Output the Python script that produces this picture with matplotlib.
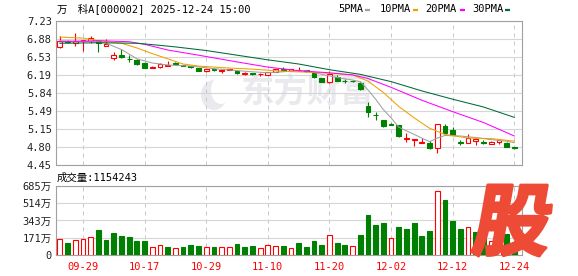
import numpy as np
import matplotlib
matplotlib.use('Agg')
import matplotlib.pyplot as plt
from matplotlib.textpath import TextPath
from matplotlib.font_manager import FontProperties
from matplotlib.patches import PathPatch, Ellipse
from matplotlib.transforms import Affine2D
from matplotlib.lines import Line2D

plt.rcParams['font.family'] = ['DejaVu Sans Mono', 'Noto Sans CJK SC']
plt.rcParams['font.size'] = 7.5

# ---------------------------------------------------------------
# data
# ---------------------------------------------------------------
dates = ['09-24', '09-25', '09-26', '09-29', '09-30',
         '10-09', '10-10', '10-13', '10-14', '10-15', '10-16', '10-17',
         '10-20', '10-21', '10-22', '10-23', '10-24', '10-27', '10-28',
         '10-29', '10-30', '10-31',
         '11-03', '11-04', '11-05', '11-06', '11-07', '11-10', '11-11',
         '11-12', '11-13', '11-14', '11-17', '11-18', '11-19', '11-20',
         '11-21', '11-24', '11-25', '11-26', '11-27', '11-28',
         '12-01', '12-02', '12-03', '12-04', '12-05', '12-08', '12-09',
         '12-10', '12-11', '12-12', '12-15', '12-16', '12-17', '12-18',
         '12-19', '12-22', '12-23', '12-24']

opens = [6.72, 6.85, 6.81, 6.84, 6.84, 6.84, 6.74, 6.52, 6.58, 6.50,
         6.48, 6.41, 6.33, 6.34, 6.37, 6.42, 6.38, 6.36, 6.32, 6.26,
         6.31, 6.27, 6.29, 6.26, 6.21, 6.22, 6.20, 6.19, 6.25, 6.31,
         6.27, 6.28, 6.28, 6.23, 6.12, 6.06, 6.14, 6.08, 6.08, 6.03,
         5.58, 5.42, 5.31, 5.25, 5.22, 4.95, 4.94, 4.88, 4.88, 4.77,
         5.20, 5.13, 4.89, 4.88, 4.92, 4.89, 4.86, 4.90, 4.88, 4.79]
closes = [6.84, 6.83, 6.84, 6.86, 6.91, 6.80, 6.79, 6.58, 6.54, 6.49,
          6.40, 6.33, 6.35, 6.40, 6.39, 6.40, 6.37, 6.34, 6.27, 6.30,
          6.28, 6.28, 6.30, 6.23, 6.22, 6.21, 6.21, 6.24, 6.30, 6.29,
          6.30, 6.29, 6.26, 6.14, 6.06, 6.20, 6.08, 6.07, 6.07, 5.91,
          5.47, 5.41, 5.20, 5.23, 5.01, 4.97, 4.95, 4.89, 4.77, 5.24,
          5.06, 5.03, 4.88, 4.98, 4.96, 4.88, 4.90, 4.93, 4.80, 4.78]
highs = [6.94, 6.87, 6.99, 6.87, 6.94, 6.85, 6.88, 6.64, 6.69, 6.57,
         6.49, 6.44, 6.36, 6.42, 6.46, 6.43, 6.39, 6.37, 6.33, 6.31,
         6.32, 6.29, 6.31, 6.28, 6.25, 6.23, 6.22, 6.25, 6.31, 6.34,
         6.31, 6.34, 6.29, 6.24, 6.13, 6.27, 6.18, 6.11, 6.10, 6.05,
         5.66, 5.48, 5.32, 5.26, 5.23, 5.07, 4.96, 4.98, 4.92, 5.25,
         5.24, 5.18, 4.93, 5.04, 4.97, 4.93, 4.91, 4.96, 4.89, 4.79]
lows = [6.71, 6.80, 6.74, 6.66, 6.80, 6.63, 6.74, 6.47, 6.52, 6.43,
        6.38, 6.32, 6.32, 6.33, 6.36, 6.38, 6.36, 6.33, 6.26, 6.25,
        6.27, 6.23, 6.28, 6.21, 6.19, 6.19, 6.17, 6.18, 6.24, 6.27,
        6.26, 6.27, 6.25, 6.13, 6.05, 6.04, 6.07, 6.04, 6.05, 5.89,
        5.38, 5.31, 5.19, 5.22, 4.99, 4.90, 4.81, 4.88, 4.76, 4.68,
        5.04, 5.02, 4.84, 4.87, 4.84, 4.85, 4.85, 4.86, 4.79, 4.76]

# volume, in 万 (10k lots)
volumes = [161, 122, 151, 161, 178, 250, 151, 220, 191, 178,
           141, 141, 82, 95, 76, 72, 76, 102, 92, 82,
           76, 82, 76, 112, 76, 92, 72, 99, 92, 86,
           72, 122, 82, 141, 102, 197, 122, 102, 89, 201,
           398, 299, 319, 171, 280, 260, 319, 191, 240, 632,
           546, 339, 260, 276, 230, 172, 140, 160, 208, 115.4243]

# moving averages read at a few candles
ma5_idx = [0, 2, 5, 6, 8, 10, 12, 14, 17, 20, 24, 27, 30, 32, 34, 36, 38,
           39, 40, 41, 42, 43, 44, 46, 48, 49, 50, 52, 54, 56, 58, 59]
ma5_val = [6.85, 6.84, 6.83, 6.80, 6.68, 6.50, 6.42, 6.38, 6.36, 6.31, 6.26,
           6.23, 6.26, 6.27, 6.20, 6.14, 6.09, 6.06, 5.90, 5.72, 5.52, 5.36,
           5.18, 5.04, 4.90, 4.97, 5.02, 5.01, 4.98, 4.94, 4.91, 4.88]
ma10_idx = [0, 3, 5, 8, 10, 12, 14, 16, 18, 21, 25, 29, 34, 38, 40, 42, 44,
            46, 48, 50, 53, 56, 59]
ma10_val = [6.92, 6.90, 6.85, 6.80, 6.71, 6.60, 6.50, 6.40, 6.36, 6.33, 6.30,
            6.26, 6.23, 6.19, 6.07, 5.85, 5.58, 5.36, 5.16, 5.04, 4.97, 4.96,
            4.91]
ma20_idx = [0, 5, 9, 11, 14, 18, 23, 27, 31, 35, 38, 40, 43, 47, 51, 55, 59]
ma20_val = [6.83, 6.85, 6.83, 6.78, 6.67, 6.57, 6.44, 6.34, 6.27, 6.23, 6.19,
            6.12, 5.95, 5.70, 5.48, 5.27, 5.01]
ma30_idx = [0, 5, 10, 13, 15, 19, 23, 27, 31, 35, 39, 43, 47, 51, 55, 59]
ma30_val = [6.80, 6.81, 6.80, 6.76, 6.73, 6.66, 6.57, 6.48, 6.40, 6.29, 6.20,
            6.06, 5.88, 5.72, 5.57, 5.37]

price_ticks = ['7.23', '6.88', '6.53', '6.19', '5.84', '5.49', '5.15', '4.80', '4.45']
vol_ticks = [0, 171, 343, 514, 685]
vol_tick_labels = ['0', '171万', '343万', '514万', '685万']
date_ticks = ['09-29', '10-17', '10-29', '11-10', '11-20', '12-02', '12-12', '12-24']

title = '万　科A[000002] 2025-12-24 15:00'
vol_title = '成交量:1154243'
ma_names = ['5PMA', '10PMA', '20PMA', '30PMA']

# ---------------------------------------------------------------
# styling
# ---------------------------------------------------------------
RED = '#ff0000'
GREEN = '#008000'
MA_COLORS = ['#a0a0a0', '#f0a000', '#ff00ff', '#006a38']
GRID = '#d6d6d6'
FRAME = '#a0a0a0'
TXT = '#222222'

W, H = 578, 276
fig = plt.figure(figsize=(W / 100, H / 100), dpi=100)


def box(left, top, right, bottom):
    return [left / W, 1 - bottom / H, (right - left) / W, (bottom - top) / H]


ax = fig.add_axes(box(56, 21, 522, 165))
axv = fig.add_axes(box(56, 186, 522, 255))

o = np.array(opens)
c = np.array(closes)
hi = np.array(highs)
lo = np.array(lows)
x = np.arange(len(dates))
up = c >= o
cols = np.where(up, RED, GREEN)

# candles
ax.vlines(x, lo, hi, colors=cols, lw=0.8, zorder=2)
ax.bar(x, np.maximum(np.abs(c - o), 0.004), bottom=np.minimum(o, c),
       width=0.62, color=np.where(up, 'white', GREEN), edgecolor=cols,
       lw=0.8, zorder=3)

# moving averages
for idx, val, col in zip([ma5_idx, ma10_idx, ma20_idx, ma30_idx],
                         [ma5_val, ma10_val, ma20_val, ma30_val], MA_COLORS):
    ax.plot(idx, val, color=col, lw=0.75, zorder=4)

# volume: colour by change against previous close
prev = np.concatenate([[o[0]], c[:-1]])
vup = c >= prev
vcols = np.where(vup, RED, GREEN)
axv.bar(x, volumes, width=0.62, color=np.where(vup, 'white', GREEN),
        edgecolor=vcols, lw=0.8, zorder=3)

tick_pos = [dates.index(d) for d in date_ticks]
for a in (ax, axv):
    a.set_xlim(-0.5, 60.0)
    a.set_xticks(tick_pos)
    a.set_axisbelow(True)
    a.yaxis.grid(True, color=GRID, lw=0.8, ls='-')
    a.xaxis.grid(True, color='#c8c8c8', lw=0.72, ls=(0, (4, 4)))
    a.tick_params(length=0, pad=3, labelsize=7.5, colors=TXT)
    for s in a.spines.values():
        s.set_color(FRAME)
        s.set_linewidth(0.8)

ax.set_ylim(4.45, 7.23)
ax.set_yticks([float(t) for t in price_ticks])
ax.set_yticklabels(price_ticks)
ax.tick_params(labelbottom=False)

axv.set_ylim(0, 685)
axv.set_yticks(vol_ticks)
axv.set_yticklabels(vol_tick_labels)
axv.set_xticklabels(date_ticks)
axv.tick_params(axis='x', colors=RED, pad=5)

# watermark 东方财富
WM = '#eaeaee'
ax.text((240 - 56) / 466, 1 - (93 - 21) / 144, '东方财富', transform=ax.transAxes,
        family='Noto Sans CJK SC', weight='bold', fontsize=24, color=WM,
        va='center', ha='left', zorder=0.1)
ax.add_patch(Ellipse(((214 - 56) / 466, 1 - (95 - 21) / 144), 26 / 466, 30 / 144,
                     transform=ax.transAxes, color=WM, zorder=0.1, lw=0))
ax.add_patch(Ellipse(((221 - 56) / 466, 1 - (90 - 21) / 144), 20 / 466, 28 / 144,
                     transform=ax.transAxes, color='white', zorder=0.2, lw=0))

# header texts
fig.text(57 / W, 1 - 8.5 / H, title, va='center', ha='left', fontsize=7.5, color='black')
fig.text(57 / W, 1 - 178 / H, vol_title, va='center', ha='left', fontsize=7.5, color='black')

# MA legend
legend_x = [338.7, 379.7, 425.7, 472]
dash_x = [365, 413, 459.7, 505]
for name, tx, dx, col in zip(ma_names, legend_x, dash_x, MA_COLORS):
    fig.text(tx / W, 1 - 9.3 / H, name, va='center', ha='left', fontsize=7.5, color='black')
    fig.add_artist(Line2D([dx / W, (dx + 5) / W], [1 - 9.5 / H, 1 - 9.5 / H],
                          color=col, lw=1.6, solid_capstyle='butt'))

# red 股 logo, slanted, bottom right
fp = FontProperties(family='Noto Sans CJK SC', weight='heavy')
tp = TextPath((0, 0), '股', size=100, prop=fp)
bb = tp.get_extents()
skew = 10
target_h = 256 - 185
shift = np.tan(np.radians(skew)) * target_h
sx = (86 - shift) / bb.width
sy = target_h / bb.height
t = (Affine2D().translate(-bb.x0, -bb.y0).scale(sx, sy)
     .skew_deg(skew, 0).translate(471, H - 256))
fig.add_artist(PathPatch(tp, transform=t, facecolor='#ee4b36', edgecolor='#ee4b36',
                         lw=2.2, joinstyle='round', zorder=10))

fig.savefig('out.png', dpi=100)
